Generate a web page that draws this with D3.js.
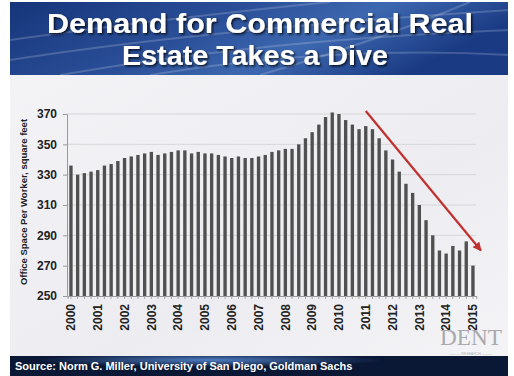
<!DOCTYPE html>
<html><head><meta charset="utf-8">
<script src="https://cdn.jsdelivr.net/npm/d3@7"></script>
<style>html,body{margin:0;padding:0;background:#fff;}svg{display:block;}</style>
</head><body>
<svg id="c" width="514" height="376"></svg>
<script>
const years = ["2000","2001","2002","2003","2004","2005","2006","2007","2008","2009","2010","2011","2012","2013","2014","2015"];
const quarters = [];
years.forEach(y => ["Q1","Q2","Q3","Q4"].forEach(q => quarters.push(y + q)));
quarters.length = 61; // 2000Q1 .. 2015Q1
const values = [
  336,330,331,332,333,336,337,339,341,342,343,344,345,343,344,345,
  346,346,344,345,344,344,343,342,341,342,341,341,342,343,345,346,
  347,347,350,354,358,363,368,371,370,366,363,360,362,360,354,346,
  340,332,324,318,310,300,290,280,278,283,280,286,270
];
const yTicks = [250,270,290,310,330,350,370];
const titleLines = ["Demand for Commercial Real","Estate Takes a Dive"];
const yTitle = "Office Space Per Worker, square feet";
const source = "Source: Norm G. Miller, University of San Diego, Goldman Sachs";
const trendStart = ["2011Q1", 372];
const trendEnd = ["2015Q1", 280];

const svg = d3.select("#c");
const defs = svg.append("defs");

// backgrounds
const hg = defs.append("linearGradient").attr("id","hg").attr("x1",0).attr("x2",1).attr("y1",0).attr("y2",0.3);
hg.append("stop").attr("offset","0%").attr("stop-color","#16357a");
hg.append("stop").attr("offset","45%").attr("stop-color","#2a4f98");
hg.append("stop").attr("offset","70%").attr("stop-color","#3d68b0");
hg.append("stop").attr("offset","100%").attr("stop-color","#1a3b84");
const bg = defs.append("linearGradient").attr("id","bg").attr("x1",0).attr("x2",1).attr("y1",0).attr("y2",1);
bg.append("stop").attr("offset","0%").attr("stop-color","#f3f3f6");
bg.append("stop").attr("offset","60%").attr("stop-color","#ededf1");
bg.append("stop").attr("offset","100%").attr("stop-color","#f4f4f7");
const fg = defs.append("radialGradient").attr("id","fg").attr("cx","0.4").attr("cy","0.2").attr("r","0.35");
fg.append("stop").attr("offset","0%").attr("stop-color","#4f7cc0");
fg.append("stop").attr("offset","100%").attr("stop-color","#0a1836");
const sh = defs.append("filter").attr("id","sh").attr("x","-5%").attr("y","-20%").attr("width","110%").attr("height","140%");
sh.append("feDropShadow").attr("dx",1.5).attr("dy",1.5).attr("stdDeviation",1).attr("flood-color","#000").attr("flood-opacity",0.8);

svg.append("rect").attr("x",10).attr("y",75).attr("width",498).attr("height",281).attr("fill","url(#bg)");
svg.append("rect").attr("x",10).attr("y",2).attr("width",498).attr("height",73).attr("fill","url(#hg)");
// light streaks in header
const streaks = [[10,60,200,30,510,10],[60,75,260,40,510,30],[150,75,330,45,510,55],[260,75,380,40,470,2],[10,40,150,20,330,2]];
streaks.forEach(s => svg.append("path")
  .attr("d",`M${s[0]},${s[1]} Q${s[2]},${s[3]} ${s[4]},${s[5]}`)
  .attr("fill","none").attr("stroke","#ffffff").attr("stroke-opacity",0.18).attr("stroke-width",2));
svg.append("rect").attr("x",10).attr("y",356).attr("width",498).attr("height",20).attr("fill","url(#fg)");

// title
const titleWidths = [426, 266];
svg.append("g").attr("filter","url(#sh)").selectAll("text").data(titleLines).join("text")
  .attr("x",(d,i)=>i===0?47:122).attr("y",(d,i)=>33+i*32)
  .attr("textLength",(d,i)=>titleWidths[i]).attr("lengthAdjust","spacingAndGlyphs")
  .attr("font-family","Liberation Sans, Arial, sans-serif").attr("font-weight","bold")
  .attr("font-size",28.5).attr("fill","#fff").text(d=>d);

// scales
const x = d3.scaleBand().domain(quarters).range([67.6,476.3]).paddingInner(0.5).paddingOuter(0.25);
const y = d3.scaleLinear().domain([250,370]).range([296,114]);

// grid
svg.append("g").selectAll("line").data(yTicks.slice(1)).join("line")
  .attr("x1",67).attr("x2",476).attr("y1",d=>y(d)).attr("y2",d=>y(d))
  .attr("stroke","#d6d6da").attr("stroke-width",1);

// y axis
const ya = svg.append("g").attr("transform","translate(67,0)")
  .call(d3.axisLeft(y).tickValues(yTicks).tickSize(4).tickPadding(6));
ya.select(".domain").attr("stroke","#999");
ya.selectAll(".tick line").attr("stroke","#999");
ya.selectAll("text").attr("font-family","Liberation Sans, Arial, sans-serif").attr("font-weight","bold")
  .attr("font-size",12).attr("fill","#222");

// x axis
const xa = svg.append("g").attr("transform","translate(0,296)")
  .call(d3.axisBottom(x).tickSize(3).tickFormat(""));
xa.select(".domain").attr("stroke","#999");
xa.selectAll(".tick line").attr("stroke","#aaa");
svg.append("g").selectAll("text").data(quarters.filter(q=>q.endsWith("Q1"))).join("text")
  .attr("transform",d=>`translate(${x(d)+x.bandwidth()/2},304) rotate(-90)`)
  .attr("text-anchor","end").attr("dy","0.35em")
  .attr("font-family","Liberation Sans, Arial, sans-serif").attr("font-weight","bold")
  .attr("font-size",12).attr("fill","#222").text(d=>d.slice(0,4));

// bars
svg.append("g").selectAll("rect").data(values).join("rect")
  .attr("x",(d,i)=>x(quarters[i])).attr("width",x.bandwidth())
  .attr("y",d=>y(d)).attr("height",d=>y(250)-y(d)).attr("fill","#505050");

// y title
svg.append("text").attr("transform","translate(27,202) rotate(-90)").attr("text-anchor","middle")
  .attr("font-family","Liberation Sans, Arial, sans-serif").attr("font-weight","bold")
  .attr("font-size",9.5).attr("fill","#222").text(yTitle);

// trend arrow
defs.append("marker").attr("id","ah").attr("viewBox","0 0 10 10").attr("refX",9).attr("refY",5)
  .attr("markerWidth",4).attr("markerHeight",4).attr("orient","auto")
  .append("path").attr("d","M0,0 L10,5 L0,10 z").attr("fill","#c0302e");
svg.append("line")
  .attr("x1",x(trendStart[0])+x.bandwidth()/2).attr("y1",y(trendStart[1]))
  .attr("x2",x(trendEnd[0])+x.bandwidth()/2+8).attr("y2",y(trendEnd[1]))
  .attr("stroke","#c0302e").attr("stroke-width",2.2).attr("marker-end","url(#ah)");

// logo
svg.append("text").attr("x",471).attr("y",345).attr("text-anchor","middle")
  .attr("font-family","Liberation Serif, Times New Roman, serif").attr("font-size",23)
  .attr("textLength",62).attr("lengthAdjust","spacingAndGlyphs")
  .attr("fill","#a9a9ae").text("DENT");
svg.append("text").attr("x",471).attr("y",354.5).attr("text-anchor","middle")
  .attr("font-family","Liberation Sans, Arial, sans-serif").attr("font-size",3.5)
  .attr("fill","#b0b0b4").text("——— RESEARCH ———");

// source
svg.append("text").attr("x",15).attr("y",370)
  .attr("font-family","Liberation Sans, Arial, sans-serif").attr("font-weight","bold")
  .attr("font-size",11).attr("fill","#fff").text(source);
</script>
</body></html>
